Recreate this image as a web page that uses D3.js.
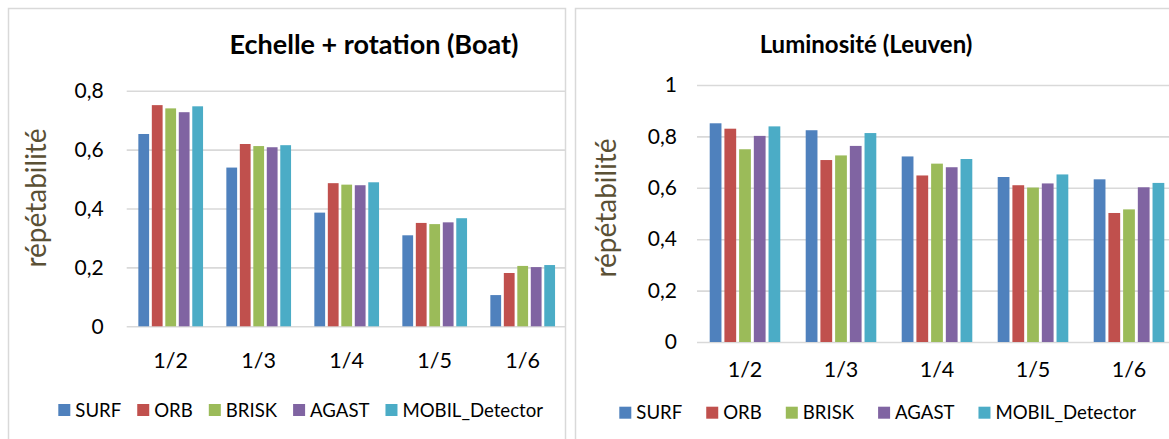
<!DOCTYPE html>
<html>
<head>
<meta charset="utf-8">
<script src="https://cdn.jsdelivr.net/npm/d3@7"></script>
<style>
  html, body { margin: 0; padding: 0; background: #fff; }
  svg { display: block; }
  text { font-family: Lato, "Liberation Sans", Arial, sans-serif; }
</style>
</head>
<body>
<svg id="chart" width="1169" height="439"></svg>
<script>
// ---- data ----
const categories = ["1/2", "1/3", "1/4", "1/5", "1/6"];
const seriesNames = ["SURF", "ORB", "BRISK", "AGAST", "MOBIL_Detector"];
const seriesColors = ["#4F81BD", "#C0504D", "#9BBB59", "#8064A2", "#4BACC6"];

const boatSURF  = [0.653, 0.539, 0.386, 0.309, 0.106];
const boatORB   = [0.751, 0.619, 0.486, 0.351, 0.181];
const boatBRISK = [0.740, 0.612, 0.481, 0.347, 0.205];
const boatAGAST = [0.727, 0.608, 0.479, 0.353, 0.201];
const boatMOBIL = [0.747, 0.615, 0.489, 0.367, 0.208];

const leuvenSURF  = [0.851, 0.824, 0.722, 0.642, 0.633];
const leuvenORB   = [0.830, 0.708, 0.648, 0.610, 0.502];
const leuvenBRISK = [0.750, 0.726, 0.694, 0.601, 0.516];
const leuvenAGAST = [0.802, 0.763, 0.680, 0.617, 0.602];
const leuvenMOBIL = [0.839, 0.813, 0.712, 0.652, 0.619];

const boatTicks = [0, 0.2, 0.4, 0.6, 0.8];
const leuvenTicks = [0, 0.2, 0.4, 0.6, 0.8, 1];

const boatTitle = "Echelle + rotation (Boat)";
const leuvenTitle = "Luminosité (Leuven)";
const yTitle = "répétabilité";

// ---- drawing ----
const svg = d3.select("#chart");
const fmt = d => String(d).replace(".", ",");

function drawPanel(cfg) {
  const g = svg.append("g");
  // panel frame
  g.append("rect")
    .attr("x", cfg.frame[0]).attr("y", cfg.frame[1])
    .attr("width", cfg.frame[2]).attr("height", cfg.frame[3])
    .attr("fill", "#fff").attr("stroke", "#d9d9d9").attr("stroke-width", 1.5);

  const x0 = d3.scaleBand().domain(categories).range([cfg.left, cfg.right])
    .paddingInner(0.234).paddingOuter(0.117);
  const x1 = d3.scaleBand().domain(seriesNames).range([0, x0.bandwidth()])
    .paddingInner(0.2).paddingOuter(0.1);
  const y = d3.scaleLinear().domain([0, cfg.yMax]).range([cfg.bottom, cfg.top]);

  const clip = "clip" + cfg.id;
  svg.append("clipPath").attr("id", clip).append("rect")
    .attr("x", cfg.frame[0]).attr("y", cfg.frame[1])
    .attr("width", cfg.frame[2]).attr("height", cfg.frame[3]);
  const inner = g.append("g").attr("clip-path", `url(#${clip})`);

  // gridlines
  inner.append("g")
    .attr("transform", `translate(${cfg.left},0)`)
    .call(d3.axisLeft(y).tickValues(cfg.ticks).tickSize(-(cfg.gridRight - cfg.left)).tickFormat(""))
    .call(a => a.select(".domain").remove())
    .call(a => a.selectAll("line").attr("stroke", "#d9d9d9").attr("stroke-width", 1.6));

  // bars
  const rows = categories.map((c, i) => ({ c, vals: cfg.values.map(v => v[i]) }));
  inner.append("g").selectAll("g").data(rows).join("g")
    .attr("transform", d => `translate(${x0(d.c)},0)`)
    .selectAll("rect").data(d => d.vals.map((v, j) => ({ name: seriesNames[j], v, j })))
    .join("rect")
      .attr("x", d => x1(d.name))
      .attr("width", x1.bandwidth())
      .attr("y", d => y(d.v))
      .attr("height", d => y(0) - y(d.v))
      .attr("fill", d => seriesColors[d.j]);

  // y tick labels
  g.append("g")
    .attr("transform", `translate(${cfg.left},0)`)
    .call(d3.axisLeft(y).tickValues(cfg.ticks).tickSize(0).tickPadding(cfg.yPad).tickFormat(fmt))
    .call(a => a.select(".domain").remove())
    .call(a => a.selectAll("text").attr("font-size", 21).attr("fill", "#000")
      .attr("font-family", "Lato, 'Liberation Sans', sans-serif"));

  // x tick labels
  g.append("g")
    .attr("transform", `translate(0,${cfg.bottom})`)
    .call(d3.axisBottom(x0).tickSize(0).tickPadding(cfg.xPad))
    .call(a => a.select(".domain").remove())
    .call(a => a.selectAll("text").attr("font-size", 21.5).attr("fill", "#000")
      .attr("font-family", "Lato, 'Liberation Sans', sans-serif"));

  // title
  g.append("text")
    .attr("x", cfg.titleX).attr("y", cfg.titleY)
    .attr("text-anchor", "middle")
    .attr("font-weight", "bold")
    .attr("font-size", cfg.titleSize)
    .attr("fill", "#000")
    .text(cfg.title);

  // y axis title
  g.append("text")
    .attr("transform", `translate(${cfg.yTitleX},${cfg.yTitleY}) rotate(-90)`)
    .attr("text-anchor", "middle")
    .attr("dy", "0.35em")
    .attr("font-size", 28)
    .attr("fill", "#5A5035")
    .text(yTitle);

  // legend
  const leg = g.append("g").attr("transform", `translate(${cfg.legX},${cfg.legY})`);
  let cx = 0;
  seriesNames.forEach((name, i) => {
    leg.append("rect").attr("x", cx).attr("y", -6).attr("width", 12).attr("height", 12)
      .attr("fill", seriesColors[i]);
    const t = leg.append("text").attr("x", cx + 17).attr("y", 0).attr("dy", "0.36em")
      .attr("font-size", 18.6).attr("fill", "#000").text(name);
    cx += 17 + t.node().getComputedTextLength() + cfg.legGap;
  });
}

drawPanel({
  id: "boat",
  frame: [8.5, 8.5, 557, 445],
  left: 126.7, right: 566.7, gridRight: 566,
  top: 90.7, bottom: 326.3, yMax: 0.8, ticks: boatTicks,
  values: [boatSURF, boatORB, boatBRISK, boatAGAST, boatMOBIL],
  yPad: 23, xPad: 26,
  title: boatTitle, titleX: 374, titleY: 54, titleSize: 27,
  yTitleX: 36, yTitleY: 198,
  legX: 58.3, legY: 410, legGap: 16
});

drawPanel({
  id: "leuven",
  frame: [575.5, 8.5, 620, 445],
  left: 697, right: 1177, gridRight: 1175,
  top: 85, bottom: 342, yMax: 1, ticks: leuvenTicks,
  values: [leuvenSURF, leuvenORB, leuvenBRISK, leuvenAGAST, leuvenMOBIL],
  yPad: 20, xPad: 20,
  title: leuvenTitle, titleX: 866, titleY: 53, titleSize: 24,
  yTitleX: 606, yTitleY: 208,
  legX: 619.3, legY: 412.7, legGap: 24
});
</script>
</body>
</html>
